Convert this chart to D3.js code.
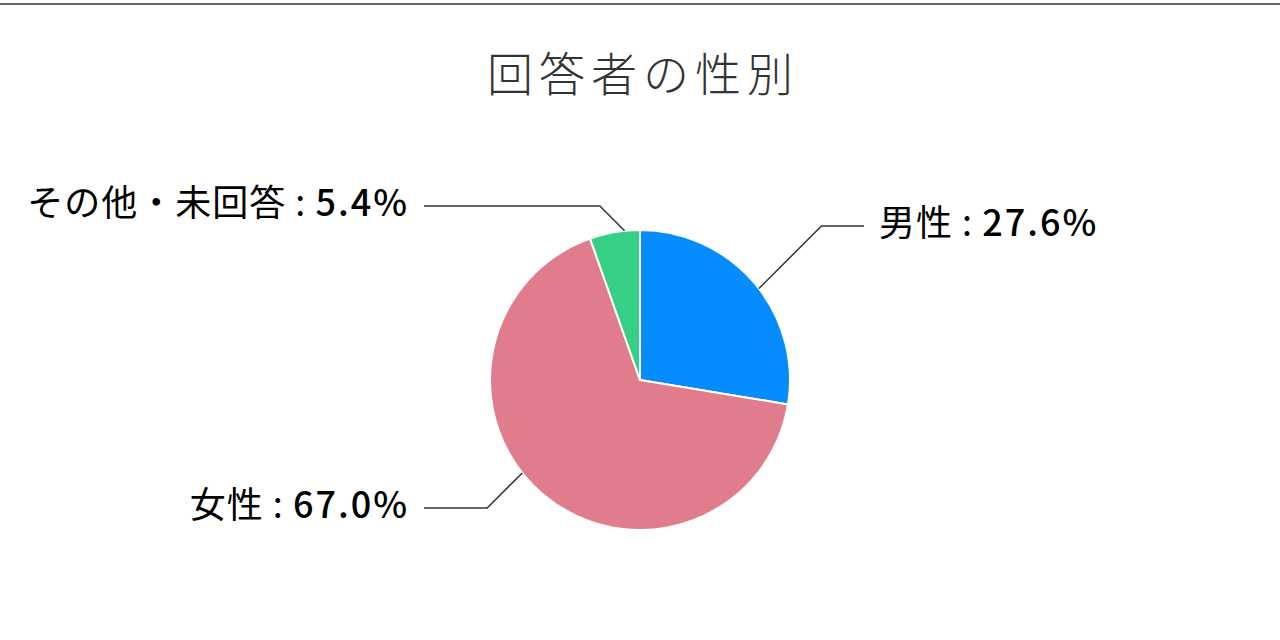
<!DOCTYPE html>
<html>
<head>
<meta charset="utf-8">
<script src="https://cdn.jsdelivr.net/npm/d3@7"></script>
<style>
  body { margin: 0; background: #fff; }
  svg { display: block; }
</style>
</head>
<body>
<div id="chart"></div>
<script>
// data
const chartTitle = "回答者の性別";
const categories = ["男性", "女性", "その他・未回答"];
const values = [27.6, 67.0, 5.4];
const colors = ["#058cff", "#e07c8b", "#36cf86"];

// layout
const width = 1280, height = 640;
const cx = 640, cy = 380, radius = 150;
const elbowRadius = 238;       // where the connector breaks
const lineReach = 220;          // horizontal end of connectors from centre
const lineShift = 4;
const textGap = 15;
const labelTop = 206, labelBottom = 508;  // elbows are kept inside this band
const fontFamily = "'Noto Sans CJK JP', 'Noto Sans', sans-serif";

const svg = d3.select("#chart").append("svg")
  .attr("width", width)
  .attr("height", height);

// thin rule at the top of the frame
svg.append("rect")
  .attr("x", 0).attr("y", 3)
  .attr("width", width).attr("height", 2)
  .attr("fill", "#666");

svg.append("text")
  .attr("x", cx + 3)
  .attr("y", 91)
  .attr("text-anchor", "middle")
  .attr("font-family", fontFamily)
  .attr("font-size", 46)
  .attr("font-weight", 300)
  .attr("letter-spacing", 6)
  .attr("fill", "#333")
  .text(chartTitle);

const slices = categories.map(function (c, i) {
  return { name: c, value: values[i], color: colors[i] };
});

const pie = d3.pie()
  .sort(null)
  .value(function (d) { return d.value; });

const arc = d3.arc()
  .innerRadius(0)
  .outerRadius(radius);

const arcs = pie(slices);

const g = svg.append("g")
  .attr("transform", "translate(" + cx + "," + cy + ")");

g.selectAll("path.slice")
  .data(arcs)
  .enter().append("path")
  .attr("class", "slice")
  .attr("d", arc)
  .attr("fill", function (d) { return d.data.color; })
  .attr("stroke", "#fff")
  .attr("stroke-width", 2)
  .attr("stroke-linejoin", "round");

// label positions: elbow on a bigger circle, clamped to a band,
// then a 45 degree leg back onto the slice edge
function labelLayout(d) {
  const a = (d.startAngle + d.endAngle) / 2;
  let ex = elbowRadius * Math.sin(a);
  let ey = -elbowRadius * Math.cos(a);
  ey = Math.max(labelTop - cy, Math.min(labelBottom - cy, ey));
  const sx = ex < 0 ? -1 : 1, sy = ey < 0 ? -1 : 1;
  // direction towards the pie at 45 degrees
  const dx = -sx / Math.SQRT2, dy = -sy / Math.SQRT2;
  const b = ex * dx + ey * dy;
  const c = ex * ex + ey * ey - radius * radius;
  const disc = b * b - c;
  let px, py;
  if (disc >= 0) {
    const t = -b - Math.sqrt(disc);
    px = ex + t * dx;
    py = ey + t * dy;
  } else {
    px = radius * Math.sin(a);
    py = -radius * Math.cos(a);
  }
  const endX = sx * lineReach + lineShift;
  return { side: sx, start: [px, py], elbow: [ex, ey], end: [endX, ey] };
}

const labels = g.selectAll("g.label")
  .data(arcs)
  .enter().append("g")
  .attr("class", "label");

labels.append("polyline")
  .attr("points", function (d) {
    const l = labelLayout(d);
    return [l.start, l.elbow, l.end].map(function (p) { return p.join(","); }).join(" ");
  })
  .attr("fill", "none")
  .attr("stroke", "#333")
  .attr("stroke-width", 1.5);

const labelText = labels.append("text")
  .attr("x", function (d) {
    const l = labelLayout(d);
    return l.end[0] + l.side * textGap;
  })
  .attr("y", function (d) { return labelLayout(d).end[1]; })
  .attr("dy", "0.28em")
  .attr("text-anchor", function (d) { return labelLayout(d).side < 0 ? "end" : "start"; })
  .attr("font-family", fontFamily)
  .attr("font-size", 36)
  .attr("letter-spacing", 1)
  .attr("fill", "#000");

labelText.append("tspan")
  .text(function (d) { return d.data.name + " : "; });

labelText.append("tspan")
  .attr("font-weight", 500)
  .attr("letter-spacing", 2)
  .text(function (d) { return d.data.value.toFixed(1) + "%"; });
</script>
</body>
</html>
